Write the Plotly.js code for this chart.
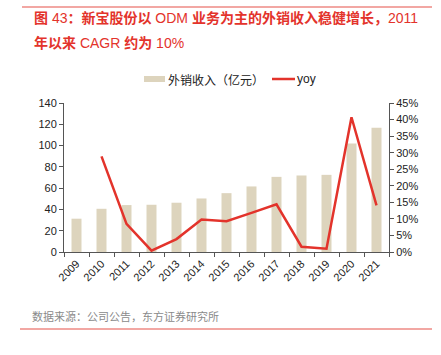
<!DOCTYPE html>
<html><head><meta charset="utf-8">
<script src="https://cdn.plot.ly/plotly-3.0.1.min.js"></script>
<style>html,body{margin:0;padding:0;background:#fff;}#chart{width:441px;height:355px;}</style>
</head><body><div id="chart"></div>
<script>
var years = ['2009','2010','2011','2012','2013','2014','2015','2016','2017','2018','2019','2020','2021'];
var exportRevenue = [31.3, 40.6, 44.1, 44.4, 46.3, 50.3, 55.3, 61.6, 70.6, 71.9, 72.5, 101.9, 116.8];
var yoyYears = ['2010','2011','2012','2013','2014','2015','2016','2017','2018','2019','2020','2021'];
var yoy = [0.289, 0.085, 0.004, 0.039, 0.098, 0.093, 0.118, 0.144, 0.016, 0.010, 0.407, 0.141];
var titleLines = ['<b>图</b> 43<b>：新宝股份以</b> ODM <b>业务为主的外销收入稳健增长，</b>2011', '<b>年以来</b> CAGR <b>约为</b> 10%'];
var sourceText = '数据来源：公司公告，东方证券研究所';
var barName = '外销收入（亿元）';
var lineName = 'yoy';

var red = '#e3332b';
var font = 'Liberation Sans, Arial, Noto Sans CJK SC, sans-serif';
var cjk = 'Noto Sans CJK SC, sans-serif';
var titleFont = 'Liberation Sans, Arial, Noto Sans CJK SC, sans-serif';

function px(x){ return (x-64)/325; }
function py(y){ return (252-y)/149; }

var traces = [
  {type:'bar', x:years, y:exportRevenue, name:barName, marker:{color:'#ddd4bd'}, width:0.4, yaxis:'y', showlegend:false},
  {type:'scatter', mode:'lines', x:yoyYears, y:yoy, name:lineName, line:{color:red, width:2.5}, yaxis:'y2', showlegend:false}
];

var layout = {
  width:441, height:355,
  margin:{l:64, r:52, t:103, b:103},
  paper_bgcolor:'#fff', plot_bgcolor:'#fff',
  font:{family:font, size:11, color:'#222'},
  showlegend:false,
  xaxis:{type:'category', categoryarray:years, range:[-0.5,12.5], tickangle:-45, ticks:'outside', tickson:'boundaries', ticklen:4, tickcolor:'#555', showline:true, linecolor:'#555', linewidth:1, showgrid:false, zeroline:false, tickfont:{size:11, family:font}},
  yaxis:{range:[0,140], dtick:20, ticks:'outside', ticklen:4, tickcolor:'#555', showline:true, linecolor:'#555', showgrid:false, zeroline:false, tickfont:{size:11, family:font}},
  yaxis2:{overlaying:'y', side:'right', range:[0,0.45], dtick:0.05, tickformat:'.0%', ticks:'outside', ticklen:4, tickcolor:'#555', showline:true, linecolor:'#555', showgrid:false, zeroline:false, tickfont:{size:11, family:font}},
  annotations:[
    {xref:'paper', yref:'paper', x:px(32), y:py(18), xanchor:'left', yanchor:'middle', text:titleLines[0], showarrow:false, font:{family:titleFont, size:14, color:red}},
    {xref:'paper', yref:'paper', x:px(32), y:py(43), xanchor:'left', yanchor:'middle', text:titleLines[1], showarrow:false, font:{family:titleFont, size:14, color:red}},
    {xref:'paper', yref:'paper', x:px(30), y:py(316), xanchor:'left', yanchor:'middle', text:sourceText, showarrow:false, font:{family:cjk, size:11, color:'#8a8a8a'}},
    {xref:'paper', yref:'paper', x:px(166), y:py(79), xanchor:'left', yanchor:'middle', text:barName, showarrow:false, font:{family:cjk, size:12, color:'#222'}},
    {xref:'paper', yref:'paper', x:px(295), y:py(79), xanchor:'left', yanchor:'middle', text:lineName, showarrow:false, font:{family:font, size:12, color:'#222'}}
  ],
  shapes:[
    {type:'line', xref:'paper', yref:'paper', x0:px(22), x1:px(432), y0:py(7), y1:py(7), line:{color:'#ee8a84', width:1.5}},
    {type:'line', xref:'paper', yref:'paper', x0:px(20), x1:px(432), y0:py(329), y1:py(329), line:{color:'#ee8a84', width:1.5}},
    {type:'rect', xref:'paper', yref:'paper', x0:px(144), x1:px(165), y0:py(76), y1:py(82), fillcolor:'#ddd4bd', line:{width:0}},
    {type:'line', xref:'paper', yref:'paper', x0:px(272), x1:px(295), y0:py(79), y1:py(79), line:{color:red, width:2.5}}
  ]
};
Plotly.newPlot('chart', traces, layout, {displayModeBar:false, staticPlot:true});
</script>
</body></html>
